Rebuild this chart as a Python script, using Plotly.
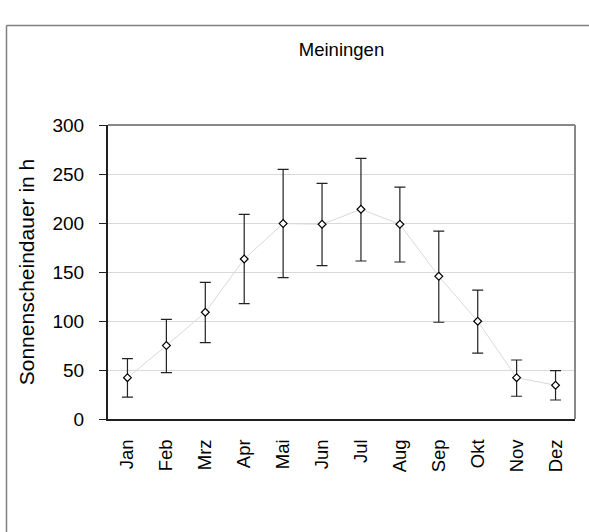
import plotly.graph_objects as go

months = ["Jan", "Feb", "Mrz", "Apr", "Mai", "Jun", "Jul", "Aug", "Sep", "Okt", "Nov", "Dez"]
mean_hours = [42.2, 74.9, 108.9, 163.3, 199.4, 198.7, 214.0, 198.7, 145.6, 99.7, 42.2, 34.4]
upper_hours = [61.6, 101.7, 139.5, 208.9, 254.8, 240.5, 266.0, 236.7, 191.8, 131.6, 60.2, 49.4]
lower_hours = [22.4, 47.3, 78.0, 117.8, 144.3, 156.5, 161.2, 160.2, 98.7, 67.3, 23.2, 19.4]

err_plus = [u - m for u, m in zip(upper_hours, mean_hours)]
err_minus = [m - l for m, l in zip(mean_hours, lower_hours)]

FONT = "Arial, 'Liberation Sans', sans-serif"

fig = go.Figure()
fig.add_trace(go.Scatter(
    x=months, y=mean_hours,
    mode="lines+markers",
    line=dict(color="#d9d9d9", width=1),
    marker=dict(symbol="diamond", size=6, color="white", line=dict(color="black", width=1.2)),
    error_y=dict(type="data", symmetric=False, array=err_plus, arrayminus=err_minus,
                 color="#222222", thickness=1.2, width=5.5),
    showlegend=False,
))

fig.update_layout(
    width=589, height=532,
    margin=dict(l=108, r=14, t=125, b=113),
    paper_bgcolor="white", plot_bgcolor="white",
    font=dict(family=FONT, color="black"),
    title=dict(text="Meiningen", x=0.5, xref="paper", xanchor="center",
               y=1 - 50 / 532, yref="container", yanchor="middle",
               font=dict(size=18.5, family=FONT, color="black")),
    xaxis=dict(
        type="category", categoryorder="array", categoryarray=months,
        range=[-0.5, 11.5],
        tickangle=-90, tickfont=dict(size=18.5),
        ticks="", showgrid=False,
        showline=True, linecolor="#202020", linewidth=2,
        mirror=False, zeroline=False, ticklabelstandoff=11,
    ),
    yaxis=dict(
        range=[0, 300], tickvals=[0, 50, 100, 150, 200, 250, 300],
        tickfont=dict(size=19),
        ticks="outside", ticklen=7, tickcolor="#202020", tickwidth=1,
        showgrid=True, gridcolor="#d9d9d9", gridwidth=1,
        showline=True, linecolor="#202020", linewidth=2,
        zeroline=False, ticklabelstandoff=11,
        title=dict(text="Sonnenscheindauer in h", font=dict(size=21), standoff=12),
    ),
    shapes=[
        dict(type="line", xref="paper", yref="paper", x0=0, x1=1, y0=1, y1=1,
             line=dict(color="#888888", width=2)),
        dict(type="line", xref="paper", yref="paper", x0=1, x1=1, y0=0, y1=1,
             line=dict(color="#888888", width=2)),
        # outer chart frame: only the left and top edges are visible on the page
        dict(type="line", xref="paper", yref="paper",
             x0=(6.5 - 108) / 467, x1=(800 - 108) / 467,
             y0=(407 - 13.5) / 294, y1=(407 - 13.5) / 294,
             line=dict(color="#808080", width=1.5), layer="below"),
        dict(type="line", xref="paper", yref="paper",
             x0=(6.5 - 108) / 467, x1=(6.5 - 108) / 467,
             y0=(407 - 800) / 294, y1=(407 - 13.5) / 294,
             line=dict(color="#808080", width=1.5), layer="below"),
    ],
)

fig.write_html("out.html")
